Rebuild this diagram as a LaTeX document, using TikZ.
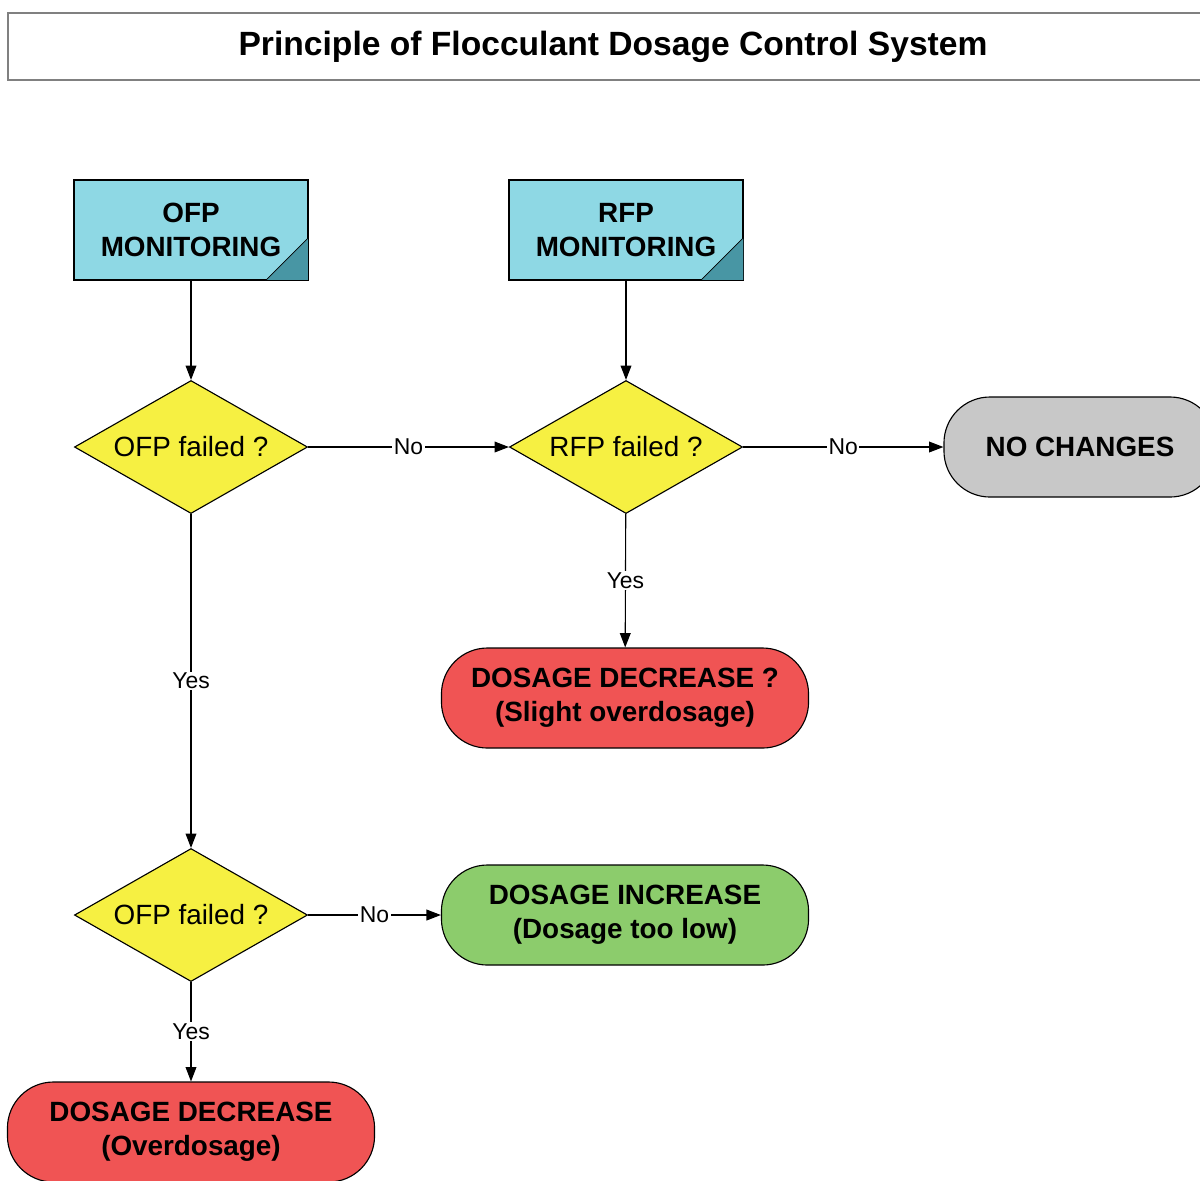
\documentclass[tikz,border=0pt]{standalone}
\usepackage{fontspec}
\setmainfont{Liberation Sans}
\usepackage{xcolor}
\usetikzlibrary{arrows.meta,positioning,shapes.geometric,calc}

\definecolor{moncyan}{RGB}{142,216,228}
\definecolor{monfold}{RGB}{72,150,164}
\definecolor{askyellow}{RGB}{246,240,66}
\definecolor{endgrey}{RGB}{200,200,200}
\definecolor{endred}{RGB}{240,84,84}
\definecolor{endgreen}{RGB}{140,204,108}

\tikzset{
  monbox/.style={draw,fill=moncyan,minimum width=5.85cm,minimum height=2.5cm,
    align=center,font=\bfseries\fontsize{19.8}{24.1}\selectfont},
  ask/.style={draw,diamond,aspect=1.75,fill=askyellow,minimum width=5.825cm,
    minimum height=3.325cm,inner sep=0pt,font=\fontsize{19.8}{24}\selectfont},
  result/.style={draw,rounded corners=1.15cm,minimum height=2.5cm,
    align=center,font=\bfseries\fontsize{19.8}{24.1}\selectfont},
  lbl/.style={fill=white,inner sep=1pt,font=\fontsize{16.3}{19}\selectfont},
}

\begin{document}
\begin{tikzpicture}[x=0.025cm,y=-0.025cm,line width=0.8pt,
    >={Triangle[length=0.36cm,width=0.27cm]}]
  \useasboundingbox (0,0) rectangle (1200,1180);
  \clip (0,0) rectangle (1200,1180);
  \node[draw=gray,line width=1pt,minimum width=30.25cm,minimum height=1.675cm,
    font=\bfseries\fontsize{23.9}{28}\selectfont] (title) at (613,46.5)
    {Principle of Flocculant Dosage Control System};

  \node[monbox] (ofpmon) at (191,230) {OFP\\MONITORING};
  \node[monbox] (rfpmon) at (626,230) {RFP\\MONITORING};
  \foreach \m in {ofpmon,rfpmon}
    \filldraw[fill=monfold,line width=0.5pt] ($(\m.south east)+(-43,0)$) -- (\m.south east)
      -- ($(\m.south east)+(0,-43)$) -- cycle;

  \node[ask] (ofpask) at (191,447) {OFP failed ?};
  \node[ask] (rfpask) at (626,447) {RFP failed ?};
  \node[ask] (ofpask2) at (191,915) {OFP failed ?};

  \node[result,fill=endgrey,minimum width=6.8cm] (nochg) at (1080,447) {NO CHANGES};
  \node[result,fill=endred,minimum width=9.175cm] (slight) at (625,698)
    {DOSAGE DECREASE ?\\(Slight overdosage)};
  \node[result,fill=endgreen,minimum width=9.175cm] (incr) at (625,915)
    {DOSAGE INCREASE\\(Dosage too low)};
  \node[result,fill=endred,minimum width=9.175cm] (over) at (191,1132)
    {DOSAGE DECREASE\\(Overdosage)};

  \draw[->] (ofpmon) -- (ofpask);
  \draw[->] (rfpmon) -- (rfpask);
  \draw[->] (ofpask) -- (rfpask) node[lbl,midway] {No};
  \draw[->] (rfpask) -- (nochg) node[lbl,midway] {No};
  \draw[->] (rfpask) -- (slight) node[lbl,midway] {Yes};
  \draw[->] (ofpask) -- (ofpask2) node[lbl,midway] {Yes};
  \draw[->] (ofpask2) -- (incr) node[lbl,midway] {No};
  \draw[->] (ofpask2) -- (over) node[lbl,midway] {Yes};
\end{tikzpicture}
\end{document}
